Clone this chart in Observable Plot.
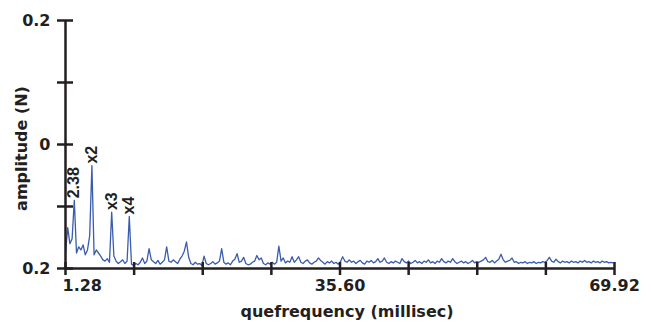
<!DOCTYPE html>
<html><head><meta charset="utf-8">
<script src="https://cdn.jsdelivr.net/npm/d3@7"></script>
<script src="https://cdn.jsdelivr.net/npm/@observablehq/plot@0.6"></script>
<style>html,body{margin:0;padding:0;background:#fff;}</style>
</head><body><div id="chart"></div>
<script>
// Sampling grid of the cepstrum (millisec)
const quefStart = 1.28;
const quefStep = 0.275;
// Cepstrum amplitude (N), one value per sample
const amplitude = [
  -0.175,-0.134,-0.160,-0.152,-0.090,-0.175,-0.165,-0.170,-0.162,-0.178,
  -0.170,-0.147,-0.034,-0.178,-0.170,-0.175,-0.180,-0.186,-0.188,-0.184,
  -0.190,-0.109,-0.180,-0.188,-0.192,-0.189,-0.186,-0.192,-0.188,-0.116,
  -0.193,-0.195,-0.192,-0.194,-0.190,-0.183,-0.192,-0.188,-0.168,-0.186,
  -0.189,-0.192,-0.187,-0.193,-0.190,-0.186,-0.165,-0.188,-0.190,-0.186,
  -0.189,-0.192,-0.185,-0.180,-0.172,-0.157,-0.182,-0.192,-0.194,-0.190,
  -0.193,-0.192,-0.195,-0.180,-0.192,-0.194,-0.192,-0.189,-0.193,-0.191,
  -0.188,-0.168,-0.190,-0.193,-0.191,-0.194,-0.188,-0.185,-0.176,-0.190,
  -0.188,-0.182,-0.192,-0.194,-0.193,-0.190,-0.188,-0.179,-0.186,-0.183,
  -0.192,-0.194,-0.191,-0.193,-0.190,-0.193,-0.190,-0.164,-0.188,-0.183,
  -0.191,-0.188,-0.190,-0.181,-0.190,-0.186,-0.181,-0.190,-0.192,-0.188,
  -0.186,-0.191,-0.193,-0.190,-0.188,-0.183,-0.187,-0.190,-0.193,-0.189,
  -0.191,-0.188,-0.192,-0.190,-0.193,-0.189,-0.181,-0.188,-0.190,-0.186,
  -0.190,-0.188,-0.192,-0.189,-0.187,-0.191,-0.193,-0.188,-0.190,-0.187,
  -0.191,-0.189,-0.184,-0.190,-0.188,-0.183,-0.190,-0.192,-0.189,-0.191,
  -0.188,-0.190,-0.192,-0.184,-0.189,-0.191,-0.188,-0.192,-0.190,-0.187,
  -0.191,-0.189,-0.192,-0.188,-0.190,-0.186,-0.191,-0.189,-0.192,-0.188,
  -0.190,-0.184,-0.189,-0.191,-0.188,-0.190,-0.184,-0.189,-0.192,-0.190,
  -0.188,-0.191,-0.189,-0.192,-0.190,-0.187,-0.191,-0.189,-0.190,-0.188,
  -0.186,-0.182,-0.189,-0.190,-0.187,-0.191,-0.188,-0.185,-0.177,-0.186,
  -0.190,-0.188,-0.187,-0.183,-0.190,-0.189,-0.192,-0.190,-0.191,-0.189,
  -0.192,-0.190,-0.191,-0.189,-0.192,-0.190,-0.191,-0.189,-0.190,-0.187,
  -0.182,-0.188,-0.190,-0.185,-0.189,-0.191,-0.188,-0.190,-0.189,-0.191,
  -0.188,-0.190,-0.189,-0.191,-0.188,-0.190,-0.187,-0.190,-0.189,-0.191,
  -0.188,-0.190,-0.189,-0.191,-0.188,-0.190,-0.189,-0.191,-0.190,-0.191
];
const xDomain = [1.28, 69.92];
const yDomain = [-0.2, 0.2];
const xTickValues = [1.28, 9.86, 18.44, 27.02, 35.60, 44.18, 52.76, 61.34, 69.92];
const xLabelValues = [1.28, 35.60, 69.92];
const xLabelText = ["1.28", "35.60", "69.92"];
const yTickValues = [-0.2, -0.1, 0, 0.1, 0.2];
const yLabelValues = [0.2, 0, -0.2];
const yLabelText = ["0.2", "0", "0.2"];
const peakIndex = [4, 12, 21, 29];
const peakText = ["2.38", "x2", "x3", "x4"];
const xTitle = "quefrequency (millisec)";
const yTitle = "amplitude (N)";

const series = amplitude.map((a, i) => ({q: quefStart + i * quefStep, a}));
const peaks = peakIndex.map((k, i) => ({q: series[k].q, a: series[k].a, label: peakText[i]}));
const yLabels = yLabelValues.map((v, i) => ({v, t: yLabelText[i]}));
const xLabels = xLabelValues.map((v, i) => ({v, t: xLabelText[i]}));
const ink = "#231f20";

const chart = Plot.plot({
  width: 651, height: 322,
  marginLeft: 65, marginRight: 37, marginTop: 20, marginBottom: 54,
  x: {domain: xDomain, axis: null},
  y: {domain: yDomain, axis: null},
  style: {background: "#fff", fontFamily: "'DejaVu Sans', sans-serif", fontWeight: "bold", fontSize: "16px", color: ink},
  marks: [
    Plot.line(series, {x: "q", y: "a", stroke: "#3a5cae", strokeWidth: 1.3}),
    Plot.ruleX([xDomain[0]], {stroke: ink, strokeWidth: 2.5}),
    Plot.ruleY([yDomain[0]], {stroke: ink, strokeWidth: 2.5}),
    Plot.axisY(yTickValues, {tickSize: 16, dx: 8, fill: "none", stroke: ink, strokeWidth: 2.5, label: null}),
    Plot.axisX(xTickValues, {tickSize: 13, dy: -6, fill: "none", stroke: ink, strokeWidth: 2.5, label: null}),
    Plot.text(yLabels, {y: "v", text: "t", frameAnchor: "left", dx: -15, textAnchor: "end", lineAnchor: "middle", fill: ink}),
    Plot.text(xLabels.slice(0, 1), {x: "v", text: "t", frameAnchor: "bottom", dy: 17, dx: -3, textAnchor: "start", lineAnchor: "middle", fill: ink}),
    Plot.text(xLabels.slice(1), {x: "v", text: "t", frameAnchor: "bottom", dy: 17, textAnchor: "middle", lineAnchor: "middle", fill: ink}),
    Plot.text(peaks, {x: "q", y: "a", text: "label", rotate: -90, textAnchor: "start", lineAnchor: "middle", dy: -2, fontFamily: "'Liberation Sans', sans-serif", fontSize: 16, fill: ink}),
    Plot.text([yTitle], {frameAnchor: "left", dx: -44, dy: 4, rotate: -90, textAnchor: "middle", lineAnchor: "middle", fill: ink}),
    Plot.text([xTitle], {frameAnchor: "bottom", dy: 43, dx: 7, textAnchor: "middle", lineAnchor: "middle", fill: ink})
  ]
});
document.getElementById("chart").appendChild(chart);
</script>
</body></html>
